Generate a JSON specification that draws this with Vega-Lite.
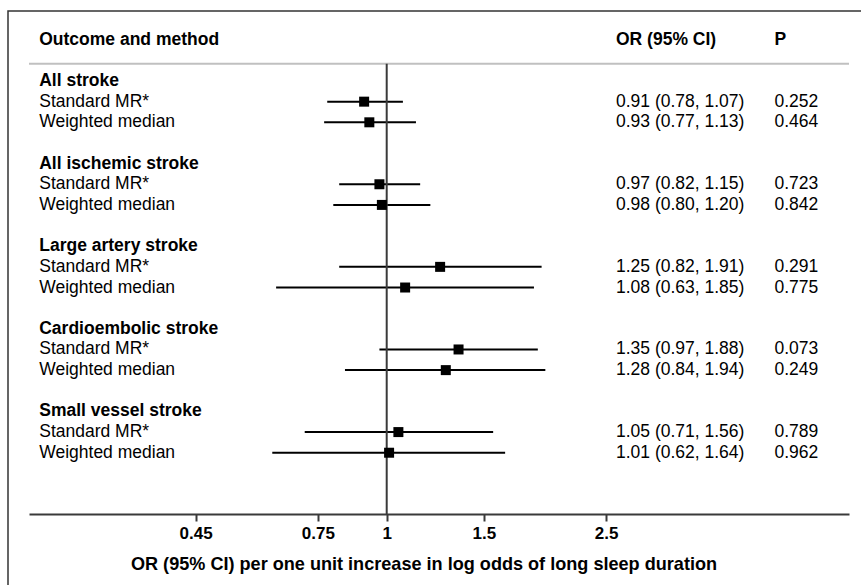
{
  "$schema": "https://vega.github.io/schema/vega-lite/v6.json",
  "width": 870,
  "height": 590,
  "autosize": {"type": "none"},
  "padding": {"left": 8, "top": 11, "right": 0, "bottom": 0},
  "background": "white",
  "config": {
    "view": {"stroke": "#333333", "strokeWidth": 1.5},
    "text": {"font": "Liberation Sans", "fontSize": 17.5, "color": "#000000"}
  },
  "datasets": {
    "est": [
      {"outcome": "All stroke", "method": "Standard MR*", "row": 1, "or": 0.91, "lo": 0.78, "hi": 1.07, "ci": "0.91 (0.78, 1.07)", "p": "0.252"},
      {"outcome": "All stroke", "method": "Weighted median", "row": 2, "or": 0.93, "lo": 0.77, "hi": 1.13, "ci": "0.93 (0.77, 1.13)", "p": "0.464"},
      {"outcome": "All ischemic stroke", "method": "Standard MR*", "row": 5, "or": 0.97, "lo": 0.82, "hi": 1.15, "ci": "0.97 (0.82, 1.15)", "p": "0.723"},
      {"outcome": "All ischemic stroke", "method": "Weighted median", "row": 6, "or": 0.98, "lo": 0.80, "hi": 1.20, "ci": "0.98 (0.80, 1.20)", "p": "0.842"},
      {"outcome": "Large artery stroke", "method": "Standard MR*", "row": 9, "or": 1.25, "lo": 0.82, "hi": 1.91, "ci": "1.25 (0.82, 1.91)", "p": "0.291"},
      {"outcome": "Large artery stroke", "method": "Weighted median", "row": 10, "or": 1.08, "lo": 0.63, "hi": 1.85, "ci": "1.08 (0.63, 1.85)", "p": "0.775"},
      {"outcome": "Cardioembolic stroke", "method": "Standard MR*", "row": 13, "or": 1.35, "lo": 0.97, "hi": 1.88, "ci": "1.35 (0.97, 1.88)", "p": "0.073"},
      {"outcome": "Cardioembolic stroke", "method": "Weighted median", "row": 14, "or": 1.28, "lo": 0.84, "hi": 1.94, "ci": "1.28 (0.84, 1.94)", "p": "0.249"},
      {"outcome": "Small vessel stroke", "method": "Standard MR*", "row": 17, "or": 1.05, "lo": 0.71, "hi": 1.56, "ci": "1.05 (0.71, 1.56)", "p": "0.789"},
      {"outcome": "Small vessel stroke", "method": "Weighted median", "row": 18, "or": 1.01, "lo": 0.62, "hi": 1.64, "ci": "1.01 (0.62, 1.64)", "p": "0.962"}
    ],
    "outcomes": [
      {"outcome": "All stroke", "row": 0},
      {"outcome": "All ischemic stroke", "row": 4},
      {"outcome": "Large artery stroke", "row": 8},
      {"outcome": "Cardioembolic stroke", "row": 12},
      {"outcome": "Small vessel stroke", "row": 16}
    ],
    "headers": [
      {"column": "label", "text": "Outcome and method"},
      {"column": "ci", "text": "OR (95% CI)"},
      {"column": "p", "text": "P"}
    ]
  },
  "layer": [
    {
      "data": {"name": "est"},
      "mark": {"type": "rule", "color": "#000000", "strokeWidth": 2},
      "encoding": {
        "x": {
          "field": "lo",
          "type": "quantitative",
          "scale": {"type": "log", "domain": [0.2244, 6.898], "range": [21, 841], "nice": false},
          "axis": {
            "values": [0.45, 0.75, 1, 1.5, 2.5],
            "format": "~g",
            "title": "OR (95% CI) per one unit increase in log odds of long sleep duration",
            "offset": -87,
            "grid": false,
            "domainColor": "#3a3a3a",
            "domainWidth": 2,
            "tickColor": "#3a3a3a",
            "tickWidth": 2,
            "tickSize": 7,
            "labelFont": "Liberation Sans",
            "labelFontSize": 17,
            "labelFontWeight": "bold",
            "labelColor": "#000000",
            "labelPadding": 4,
            "titleFont": "Liberation Sans",
            "titleFontSize": 18.1,
            "titleFontWeight": "bold",
            "titleColor": "#000000",
            "titlePadding": 14,
            "titleX": 415.5,
            "titleAlign": "center"
          }
        },
        "x2": {"field": "hi"},
        "y": {
          "field": "row",
          "type": "quantitative",
          "scale": {"domain": [-3.39, 25.18], "reverse": true, "nice": false, "zero": false},
          "axis": null
        }
      }
    },
    {
      "data": {"values": [{"line": "header"}]},
      "mark": {"type": "rule", "color": "#c0c0c0", "strokeWidth": 2},
      "encoding": {
        "x": {"datum": 0.2244, "type": "quantitative"},
        "x2": {"datum": 6.898},
        "y": {"datum": -0.84, "type": "quantitative", "axis": null}
      }
    },
    {
      "data": {"values": [{"line": "null effect"}]},
      "mark": {"type": "rule", "color": "#3a3a3a", "strokeWidth": 2},
      "encoding": {
        "x": {"datum": 1, "type": "quantitative"},
        "y": {"datum": -0.84, "type": "quantitative", "axis": null},
        "y2": {"datum": 20.97}
      }
    },
    {
      "data": {"name": "est"},
      "mark": {"type": "point", "shape": "square", "filled": true, "color": "#000000", "size": 100, "opacity": 1},
      "encoding": {
        "x": {"field": "or", "type": "quantitative"},
        "y": {"field": "row", "type": "quantitative", "axis": null}
      }
    },
    {
      "data": {"name": "est"},
      "mark": {"type": "text", "align": "left", "baseline": "middle"},
      "encoding": {
        "x": {"datum": 0.2342, "type": "quantitative"},
        "y": {"field": "row", "type": "quantitative", "axis": null},
        "text": {"field": "method"}
      }
    },
    {
      "data": {"name": "est"},
      "mark": {"type": "text", "align": "left", "baseline": "middle"},
      "encoding": {
        "x": {"datum": 2.606, "type": "quantitative"},
        "y": {"field": "row", "type": "quantitative", "axis": null},
        "text": {"field": "ci"}
      }
    },
    {
      "data": {"name": "est"},
      "mark": {"type": "text", "align": "left", "baseline": "middle"},
      "encoding": {
        "x": {"datum": 5.053, "type": "quantitative"},
        "y": {"field": "row", "type": "quantitative", "axis": null},
        "text": {"field": "p"}
      }
    },
    {
      "data": {"name": "outcomes"},
      "mark": {"type": "text", "align": "left", "baseline": "middle", "fontWeight": "bold"},
      "encoding": {
        "x": {"datum": 0.2342, "type": "quantitative"},
        "y": {"field": "row", "type": "quantitative", "axis": null},
        "text": {"field": "outcome"}
      }
    },
    {
      "data": {"name": "headers"},
      "transform": [{"filter": "datum.column === 'label'"}],
      "mark": {"type": "text", "align": "left", "baseline": "middle", "fontWeight": "bold"},
      "encoding": {
        "x": {"datum": 0.2342, "type": "quantitative"},
        "y": {"datum": -2, "type": "quantitative", "axis": null},
        "text": {"field": "text"}
      }
    },
    {
      "data": {"name": "headers"},
      "transform": [{"filter": "datum.column === 'ci'"}],
      "mark": {"type": "text", "align": "left", "baseline": "middle", "fontWeight": "bold"},
      "encoding": {
        "x": {"datum": 2.606, "type": "quantitative"},
        "y": {"datum": -2, "type": "quantitative", "axis": null},
        "text": {"field": "text"}
      }
    },
    {
      "data": {"name": "headers"},
      "transform": [{"filter": "datum.column === 'p'"}],
      "mark": {"type": "text", "align": "left", "baseline": "middle", "fontWeight": "bold"},
      "encoding": {
        "x": {"datum": 5.053, "type": "quantitative"},
        "y": {"datum": -2, "type": "quantitative", "axis": null},
        "text": {"field": "text"}
      }
    }
  ]
}
